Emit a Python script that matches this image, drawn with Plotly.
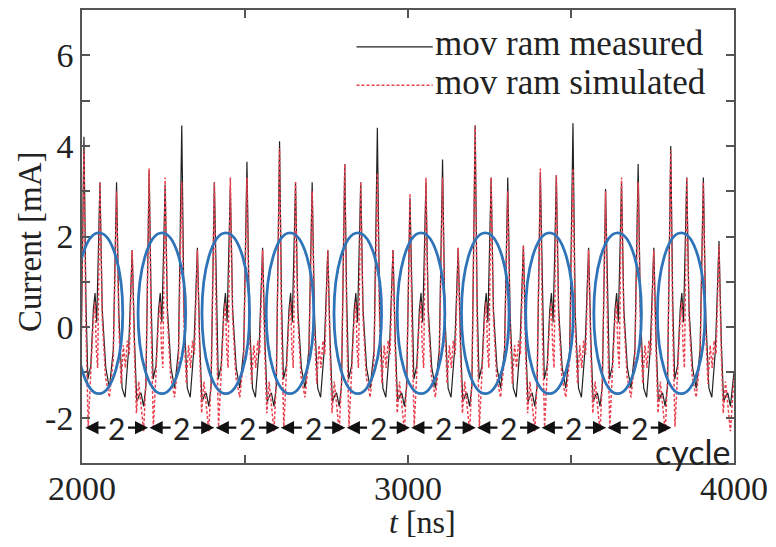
import plotly.graph_objects as go

# ---------------- data ----------------
period_start = [2000, 2200, 2400, 2600, 2800, 3000, 3200, 3400, 3600, 3800]

# four main current peaks in every 200 ns (2-cycle) period
meas_p1 = [4.2, 3.45, 3.2, 4.1, 3.6, 2.85, 4.45, 3.4, 3.05, 4.0]
meas_p2 = [3.2, 3.15, 3.1, 3.2, 3.2, 3.2, 3.3, 3.35, 3.2, 3.3]
meas_p3 = [3.2, 4.45, 3.65, 3.2, 4.4, 3.7, 3.3, 4.5, 3.6, 3.3]
meas_p4 = [1.7, 1.75, 1.75, 1.7, 1.7, 1.75, 1.8, 1.75, 1.75, 1.9]

sim_p1 = [3.9, 3.5, 3.2, 3.95, 3.6, 2.95, 4.45, 3.5, 3.0, 3.9]
sim_p2 = [3.2, 3.3, 3.3, 3.2, 3.2, 3.3, 3.3, 3.35, 3.3, 3.3]
sim_p3 = [3.0, 3.2, 3.3, 3.0, 3.4, 3.3, 3.0, 3.5, 3.2, 3.2]
sim_p4 = [1.7, 1.7, 1.7, 1.7, 1.7, 1.75, 1.8, 1.7, 1.7, 1.8]

# waveform key points inside one period (offset in ns, current in mA or peak name)
meas_offsets = [-4, 6, 12, 18, 27, 35, 40, 45, 50, 55, 62, 73, 84, 96, 106, 113,
                123, 132, 143, 154, 161, 168, 176, 181, 189]
meas_levels = [-1.3, "p1", 0.6, -1.15, -0.85, 0.4, 0.75, 0.1, 1.6, "p2", 0.4, -0.9,
               -1.35, -0.5, "p3", 0.3, -1.35, -1.55, -0.5, "p4", -0.3, -1.65, -1.5,
               -1.45, -1.75]

sim_offsets = [-4, 6, 12, 19, 27, 35, 40, 44, 48, 52, 55, 62, 72, 84, 96, 106, 113,
               120, 127, 133, 139, 145, 154, 161, 167, 174, 181, 189]
sim_levels = [-1.2, "p1", 0.0, -2.2, -1.0, 0.2, 0.55, -0.5, -0.9, 1.0, "p2", 0.2,
              -1.1, -1.55, -0.7, "p3", 0.0, -1.25, -0.4, -0.9, -0.3, -0.6, "p4",
              -0.6, -1.9, -1.2, -1.7, -2.3]

t_end = [4000]
meas_end = [-1.0]
sim_end = [-1.1]

# highlighted regions (ellipses) and 2-cycle markers
oval_center = [2052, 2245, 2441, 2638, 2846, 3040, 3237, 3434, 3643, 3838]
oval_halfwidth = 73
oval_low, oval_high = -1.47, 2.08

cycle_bounds = [2008, 2205, 2408, 2608, 2810, 3008, 3210, 3408, 3610, 3810]
cycle_label = "2"
cycle_y = -2.22
cycle_word = "cycle"
cycle_word_pos = (3874, -2.74)

x_tickvals = [2000, 2500, 3000, 3500, 4000]
x_ticktext = ["2000", "", "3000", "", "4000"]
y_tickvals = [-2, -1, 0, 1, 2, 3, 4, 5, 6]
y_ticktext = ["-2", "", "0", "", "2", "", "4", "", "6"]


def build(offsets, levels, peaks, end_t, end_v):
    ts, vs = [], []
    for k, t0 in enumerate(period_start):
        for off, lv in zip(offsets, levels):
            ts.append(t0 + off)
            vs.append(peaks[lv][k] if isinstance(lv, str) else lv)
    return ts + end_t, vs + end_v


mt, mv = build(meas_offsets, meas_levels,
               {"p1": meas_p1, "p2": meas_p2, "p3": meas_p3, "p4": meas_p4},
               t_end, meas_end)
st, sv = build(sim_offsets, sim_levels,
               {"p1": sim_p1, "p2": sim_p2, "p3": sim_p3, "p4": sim_p4},
               t_end, sim_end)

SERIF = "Liberation Serif, Times New Roman, serif"
SANS = "Lato, Liberation Sans, sans-serif"
AX = "#555555"
BLACK = "#222222"
RED = "#ea4250"

fig = go.Figure()
fig.add_trace(go.Scatter(x=mt, y=mv, mode="lines", name="mov ram measured",
                         line=dict(color=BLACK, width=1.2)))
fig.add_trace(go.Scatter(x=st, y=sv, mode="lines", name="mov ram simulated",
                         line=dict(color=RED, width=1.5, dash="3px,2px")))

shapes = []
for c in oval_center:
    shapes.append(dict(type="circle", xref="x", yref="y",
                       x0=c - oval_halfwidth, x1=c + oval_halfwidth,
                       y0=oval_low, y1=oval_high,
                       line=dict(color="#2f74b8", width=2.8)))

# manual legend
shapes.append(dict(type="line", xref="paper", yref="paper", x0=0.421, x1=0.538,
                   y0=0.9185, y1=0.9185, line=dict(color=BLACK, width=1.2)))
shapes.append(dict(type="line", xref="paper", yref="paper", x0=0.421, x1=0.538,
                   y0=0.8337, y1=0.8337, line=dict(color=RED, width=1.5, dash="3px,2px")))

annotations = []
annotations.append(dict(xref="paper", yref="paper", x=0.539, y=0.927, text="mov ram measured",
                        showarrow=False, xanchor="left", yanchor="middle",
                        font=dict(family=SERIF, size=35, color="#222")))
annotations.append(dict(xref="paper", yref="paper", x=0.539, y=0.839, text="mov ram simulated",
                        showarrow=False, xanchor="left", yanchor="middle",
                        font=dict(family=SERIF, size=35, color="#222")))

for a, b in zip(cycle_bounds[:-1], cycle_bounds[1:]):
    mid = (a + b) / 2
    annotations.append(dict(x=mid, y=cycle_y, xref="x", yref="y", text=cycle_label,
                            showarrow=False, xanchor="center", yanchor="middle",
                            font=dict(family=SANS, size=30, color="#222")))
    for head, tail in ((a + 2, mid - 30), (b - 2, mid + 30)):
        annotations.append(dict(x=head, y=cycle_y, ax=tail, ay=cycle_y, xref="x", yref="y",
                                axref="x", ayref="y", text="", showarrow=True,
                                arrowhead=2, arrowsize=1.2, arrowwidth=2.2,
                                arrowcolor="#111"))
annotations.append(dict(x=cycle_word_pos[0], y=cycle_word_pos[1], xref="x", yref="y",
                        text=cycle_word, showarrow=False, xanchor="center", yanchor="middle",
                        font=dict(family=SANS, size=34, color="#222")))

# axis titles
annotations.append(dict(xref="paper", yref="paper", x=-0.079, y=0.489, text="Current [mA]",
                        textangle=-90, showarrow=False, xanchor="center", yanchor="middle",
                        font=dict(family=SERIF, size=33, color="#222")))
annotations.append(dict(xref="paper", yref="paper", x=0.523, y=-0.13, text="<i>t</i> [ns]",
                        showarrow=False, xanchor="center", yanchor="middle",
                        font=dict(family=SERIF, size=32, color="#222")))

fig.update_layout(
    width=776, height=547,
    margin=dict(l=82, r=38, t=8, b=84),
    paper_bgcolor="white", plot_bgcolor="white",
    showlegend=False,
    shapes=shapes, annotations=annotations,
)
fig.update_xaxes(range=[2000, 4000], tickvals=x_tickvals, ticktext=x_ticktext,
                 ticks="inside", ticklen=8, tickwidth=1.5, tickcolor=AX,
                 showline=True, linecolor=AX, linewidth=1.5, mirror="ticks",
                 showgrid=False, zeroline=False, ticklabelstandoff=-6,
                 tickfont=dict(family=SERIF, size=34, color="#222"))
fig.update_yaxes(range=[-3, 7], tickvals=y_tickvals, ticktext=y_ticktext,
                 ticks="inside", ticklen=8, tickwidth=1.5, tickcolor=AX,
                 showline=True, linecolor=AX, linewidth=1.5, mirror="ticks",
                 showgrid=False, zeroline=False,
                 tickfont=dict(family=SERIF, size=34, color="#222"))

fig.write_html("out.html", config={"displayModeBar": False},
               post_script="document.body.style.margin='0px';")
